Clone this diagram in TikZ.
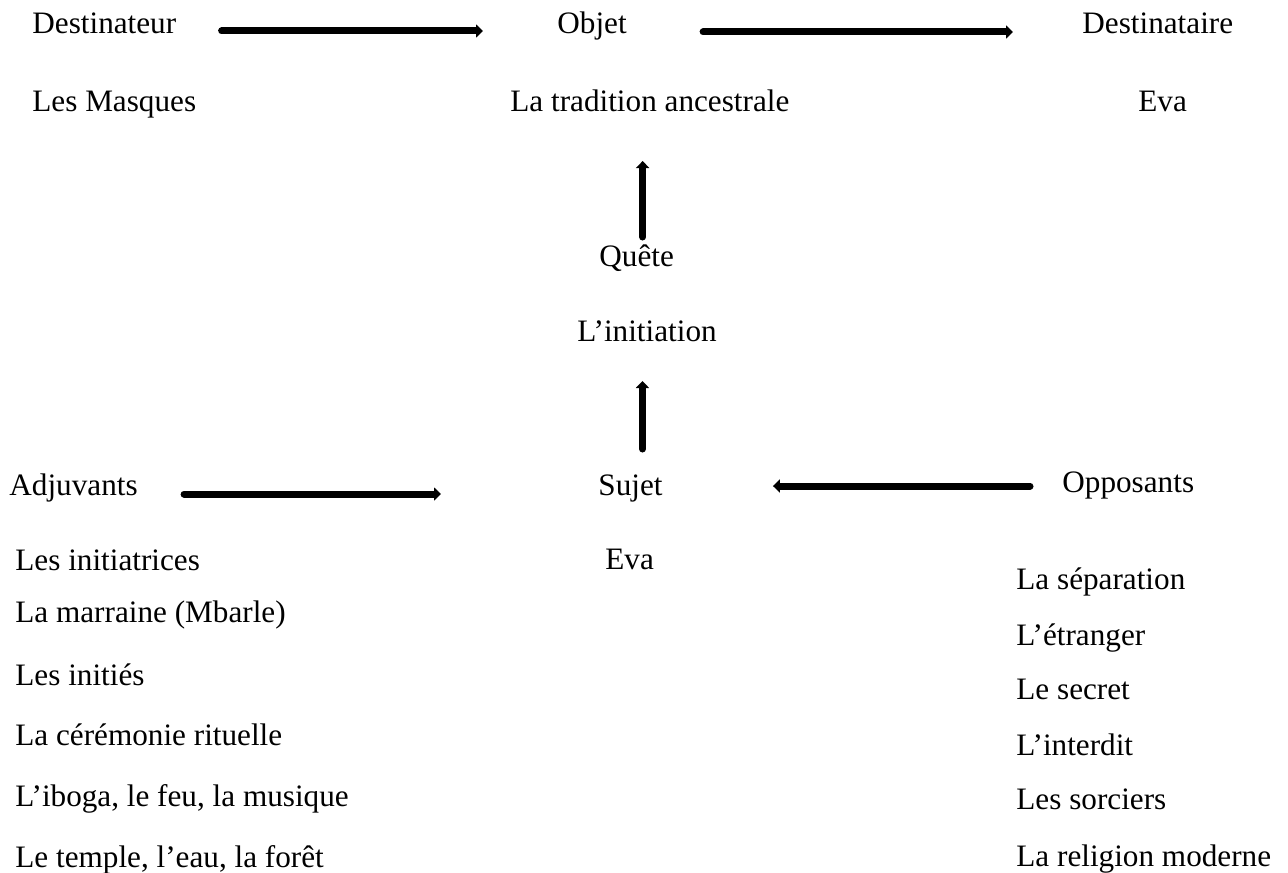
\documentclass[tikz,border=0pt]{standalone}
\usepackage{fontspec}
\setmainfont{Liberation Serif}
\usetikzlibrary{arrows.meta,calc}
\begin{document}
\begin{tikzpicture}[x=0.5pt,y=-0.5pt,
        font=\fontsize{15.6}{18}\selectfont,
        texte/.style={anchor=base west, inner sep=0pt},
        fleche/.style={line width=3.5pt, line cap=round, -{Triangle[length=3.5pt,width=6.5pt]}}]
        \useasboundingbox (0,0) rectangle (1288,872);
        % ligne du haut
        \node[texte] (destinateur) at (32,34) {Destinateur};
        \node[texte] (objet) at (557,34) {Objet};
        \node[texte] (destinataire) at (1082,34) {Destinataire};
        \node[texte] (masques) at (32,112) {Les Masques};
        \node[texte] (tradition) at (510,112) {La tradition ancestrale};
        \node[texte] (evadest) at (1138,112) {Eva};
        % axe du milieu
        \node[texte] (quete) at (599,266) {Quête};
        \node[texte] (initiation) at (577,341) {L’initiation};
        % ligne du bas
        \node[texte] (adjuvants) at (9,495) {Adjuvants};
        \node[texte] (sujet) at (598,495) {Sujet};
        \node[texte] (opposants) at (1062,492) {Opposants};
        \node[texte] (evasujet) at (605,569) {Eva};
        \foreach \t/\y [count=\i] in {Les initiatrices/570, La marraine (Mbarle)/622,
            Les initiés/685, La cérémonie rituelle/745,
            {L’iboga, le feu, la musique}/806, {Le temple, l’eau, la forêt}/867}
            \node[texte] (adj\i) at (15,\y) {\t};
        \foreach \t/\y [count=\i] in {La séparation/589, L’étranger/645, Le secret/699,
            L’interdit/755, Les sorciers/809, La religion moderne/866}
            \node[texte] (opp\i) at (1016,\y) {\t};
        % fleches
        \draw[fleche] ($(destinateur.base east)+(45,-3)$) -- ($(objet.base west)+(-74,-3)$);
        \draw[fleche] ($(objet.base east)+(76,-2)$) -- ($(destinataire.base west)+(-69,-2)$);
        \draw[fleche] ($(quete.base)+(6,-29)$) -- ($(quete.base |- tradition.base)+(6,49)$);
        \draw[fleche] ($(sujet.base)+(12,-46)$) -- ($(sujet.base |- initiation.base)+(12,40)$);
        \draw[fleche] ($(adjuvants.base east)+(46,-1)$) -- ($(sujet.base west)+(-157,-1)$);
        \draw[fleche] ($(opposants.base west)+(-32,-6)$) -- ($(sujet.base east)+(110,-9)$);
\end{tikzpicture}
\end{document}
